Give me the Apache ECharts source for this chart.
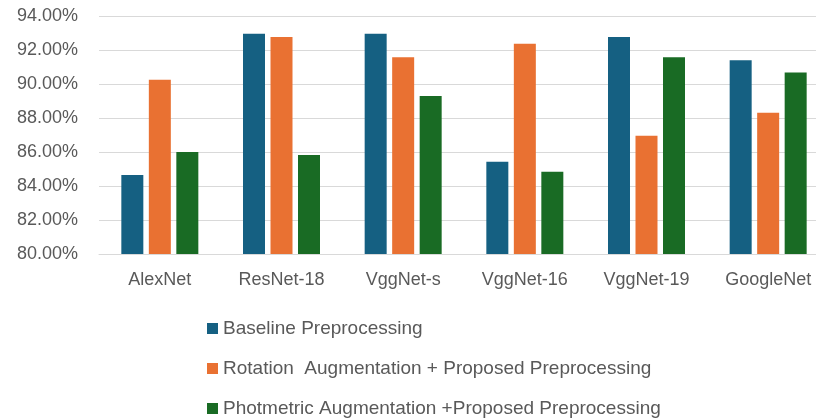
<!DOCTYPE html>
<html>
<head>
<meta charset="utf-8">
<script src="https://cdn.jsdelivr.net/npm/echarts@6/dist/echarts.min.js"></script>
<style>
  html, body { margin: 0; padding: 0; background: #ffffff; overflow: hidden; }
  /* the plot area runs a little past the right edge of the page */
  #chart { width: 829px; height: 419px; }
</style>
</head>
<body>
<div id="chart"></div>
<script>
// Model names along the category axis
const categories = ['AlexNet', 'ResNet-18', 'VggNet-s', 'VggNet-16', 'VggNet-19', 'GoogleNet'];

// Accuracy (%) per model for each training setup
const baseline = [84.65, 92.95, 92.95, 85.42, 92.77, 91.40];
const rotation = [90.25, 92.77, 91.57, 92.37, 86.96, 88.31];
const photometric = [86.00, 85.82, 89.30, 84.84, 91.57, 90.67];

const seriesNames = [
  'Baseline Preprocessing',
  'Rotation  Augmentation + Proposed Preprocessing',
  'Photmetric Augmentation +Proposed Preprocessing'
];

// Value axis range and step
const yMin = 80, yMax = 94, yStep = 2;

const colors = ['#156082', '#E97132', '#196B24'];
const font = '"Liberation Sans", Arial, sans-serif';
const textColor = '#595959';

const chart = echarts.init(document.getElementById('chart'), null, { renderer: 'canvas' });

const makeBar = (name, data, color) => ({
  name: name,
  type: 'bar',
  data: data,
  barWidth: 22,
  barGap: '25%',
  itemStyle: { color: color },
  emphasis: { disabled: true }
});

chart.setOption({
  animation: false,
  color: colors,
  grid: { left: 99, right: 0, top: 16, height: 238, containLabel: false },
  xAxis: {
    type: 'category',
    data: categories,
    axisLine: { show: true, lineStyle: { color: '#d9d9d9', width: 1 } },
    axisTick: { show: false },
    axisLabel: { color: textColor, fontFamily: font, fontSize: 18, margin: 17 }
  },
  yAxis: {
    type: 'value',
    min: yMin,
    max: yMax,
    interval: yStep,
    axisLine: { show: false },
    axisTick: { show: false },
    splitLine: { lineStyle: { color: '#d9d9d9', width: 1 } },
    axisLabel: {
      color: textColor,
      fontFamily: font,
      fontSize: 18,
      margin: 21,
      formatter: v => v.toFixed(2) + '%'
    }
  },
  legend: {
    orient: 'vertical',
    left: 202,
    top: 314,
    height: 110,
    itemWidth: 11,
    itemHeight: 11,
    itemGap: 21,
    icon: 'rect',
    textStyle: { color: textColor, fontFamily: font, fontSize: 19 },
    data: seriesNames
  },
  series: [
    makeBar(seriesNames[0], baseline, colors[0]),
    makeBar(seriesNames[1], rotation, colors[1]),
    makeBar(seriesNames[2], photometric, colors[2])
  ]
});
</script>
</body>
</html>
